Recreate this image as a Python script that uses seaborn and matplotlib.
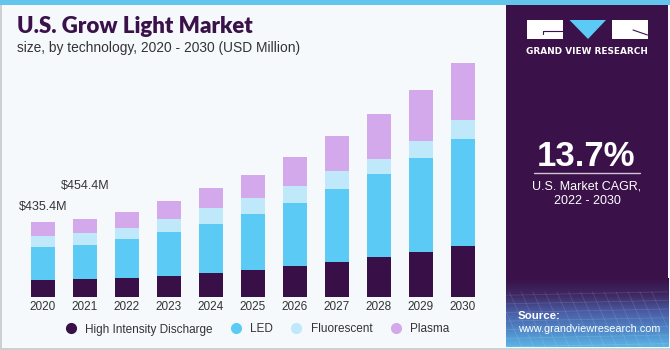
import numpy as np
import matplotlib
matplotlib.use("Agg")
import matplotlib.pyplot as plt
import seaborn as sns
from matplotlib.patches import Rectangle, Polygon
from matplotlib.lines import Line2D
from matplotlib.colors import LinearSegmentedColormap

# data (USD Million)
years = ["2020", "2021", "2022", "2023", "2024", "2025", "2026", "2027", "2028", "2029", "2030"]
hid = [95, 101, 110, 122, 138, 157, 177, 204, 232, 261, 295]
led = [197, 203, 225, 257, 289, 325, 372, 429, 487, 552, 628]
fluorescent = [61, 66, 70, 78, 90, 97, 98, 102, 88, 100, 113]
plasma = [82, 84, 90, 106, 117, 137, 170, 207, 264, 298, 336]
segments = ["High Intensity Discharge", "LED", "Fluorescent", "Plasma"]
labels = {"2020": "$435.4M", "2021": "$454.4M"}
label_offsets = {"2020": 90, "2021": 195}

colors = ["#380f47", "#5bcbf5", "#bfe9fa", "#d4a9ec"]
bg = "#f5f9fc"
purple = "#3a1149"
font = "Liberation Sans"

W, H = 670, 350
def fx(px):
    return px / W
def fy(py):
    return 1 - py / H

sns.set_theme(style="white")
plt.rcParams["font.family"] = [font, "DejaVu Sans"]

fig = plt.figure(figsize=(6.7, 3.5), dpi=100)
fig.patch.set_facecolor(bg)

# chart area
base_px, top_px = 296.5, 55
ax = fig.add_axes([fx(22), fy(base_px), fx(483.7) - fx(22), (base_px - top_px) / H])
ax.set_facecolor("none")

cum = np.cumsum(np.array([hid, led, fluorescent, plasma]), axis=0)
for i in [3, 2, 1, 0]:
    sns.barplot(x=years, y=cum[i], color=colors[i], saturation=1, width=0.57,
                ax=ax, linewidth=0)

ax.set_ylim(0, (base_px - top_px) * 5.87)
ax.set_xlim(-0.5, len(years) - 0.5)
ax.set_yticks([])
ax.set_xlabel("")
ax.set_ylabel("")
sns.despine(ax=ax, left=True, bottom=True)
ax.tick_params(axis="x", length=0, labelsize=8.5, colors="#333333", pad=3)

for y, txt in labels.items():
    i = years.index(y)
    ax.text(i, cum[3][i] + label_offsets[y], txt, ha="center", va="center",
            fontsize=9, color="#333333")

# titles
fig.text(fx(17), fy(33), "U.S. Grow Light Market", fontsize=16, fontweight="heavy",
         color=purple, family=["Lato", "DejaVu Sans"], va="baseline")
fig.text(fx(17), fy(52), "size, by technology, 2020 - 2030 (USD Million)", fontsize=9.9,
         color="#333333", va="baseline")

# legend
handles = [Line2D([], [], marker="o", linestyle="none", markersize=7, markerfacecolor=c,
                  markeredgecolor=c) for c in colors]
fig.legend(handles, segments, loc="center", bbox_to_anchor=(fx(254), fy(329.5)), ncol=4,
           frameon=False, fontsize=8.5, handletextpad=0.2, columnspacing=1.0,
           labelcolor="#333333")

# top stripe and borders
fig.patches.append(Rectangle((0, fy(5)), 1, 5 / H, transform=fig.transFigure,
                             facecolor="#63c5ec", edgecolor="none", zorder=5))
fig.add_artist(Line2D([fx(0.7), fx(0.7)], [fy(348), fy(5)], color="#c8c8c8", lw=1.2))
fig.add_artist(Line2D([0, 1], [fy(348.5), fy(348.5)], color="#c8c8c8", lw=1.2))

# right panel
px0, px1 = 505.5, 668
fig.patches.append(Rectangle((fx(px0), fy(278)), fx(px1) - fx(px0), (278 - 5) / H,
                             transform=fig.transFigure, facecolor=purple, edgecolor="none"))
gax = fig.add_axes([fx(px0), fy(347), fx(px1) - fx(px0), (347 - 278) / H])
cmap = LinearSegmentedColormap.from_list("g", [purple, "#3e2a64", "#4a5ea6", "#4f86c6", "#5ab4e6"])
grad = np.linspace(0, 1, 100).reshape(-1, 1)
gax.imshow(grad, aspect="auto", cmap=cmap, extent=[0, 1, 1, 0])
for k in np.linspace(0.05, 1.0, 14):
    gax.plot([k - 0.1, k + 0.05], [0.2, 1], color="white", alpha=0.12, lw=0.6)
for k in np.linspace(0.25, 1.0, 7):
    gax.plot([0, 1], [k, k - 0.05], color="white", alpha=0.12, lw=0.6)
gax.set_xlim(0, 1)
gax.set_ylim(1, 0)
gax.axis("off")

# logo
fig.patches.append(Rectangle((fx(527), fy(39)), fx(562.5) - fx(527), 19 / H,
                             transform=fig.transFigure, facecolor="white", edgecolor="none"))
fig.patches.append(Rectangle((fx(612), fy(39)), fx(647.5) - fx(612), 19 / H,
                             transform=fig.transFigure, facecolor="white", edgecolor="none"))
fig.patches.append(Polygon([(fx(569.5), fy(20)), (fx(606), fy(20)), (fx(588), fy(39))],
                           closed=True, transform=fig.transFigure, facecolor="#5bcbf5",
                           edgecolor="none"))
fig.add_artist(Line2D([fx(543), fx(543), fx(562.5)], [fy(34), fy(31), fy(31)], color=purple, lw=0.8))
fig.add_artist(Line2D([fx(633), fx(647.5)], [fy(30), fy(35)], color=purple, lw=0.8))
fig.text(fx(587), fy(51), "GRAND VIEW RESEARCH", fontsize=6.4, fontweight="bold",
         color="white", ha="center", va="center", family=["DejaVu Sans"])

# CAGR
fig.text(fx(586), fy(156), "13.7%", fontsize=25, fontweight="bold", color="white",
         ha="center", va="center")
fig.add_artist(Line2D([fx(534), fx(640)], [fy(172.7), fy(172.7)], color="#cfc6d6", lw=1))
fig.text(fx(587), fy(186), "U.S. Market CAGR,", fontsize=9, color="white", ha="center", va="center")
fig.text(fx(587), fy(200.5), "2022 - 2030", fontsize=9, color="white", ha="center", va="center")

# source
fig.text(fx(518), fy(316), "Source:", fontsize=8.2, fontweight="bold", color="white", va="center")
fig.text(fx(518), fy(329.5), "www.grandviewresearch.com", fontsize=7.8, color="white", va="center")

fig.savefig("out.png", dpi=100, facecolor=bg)
